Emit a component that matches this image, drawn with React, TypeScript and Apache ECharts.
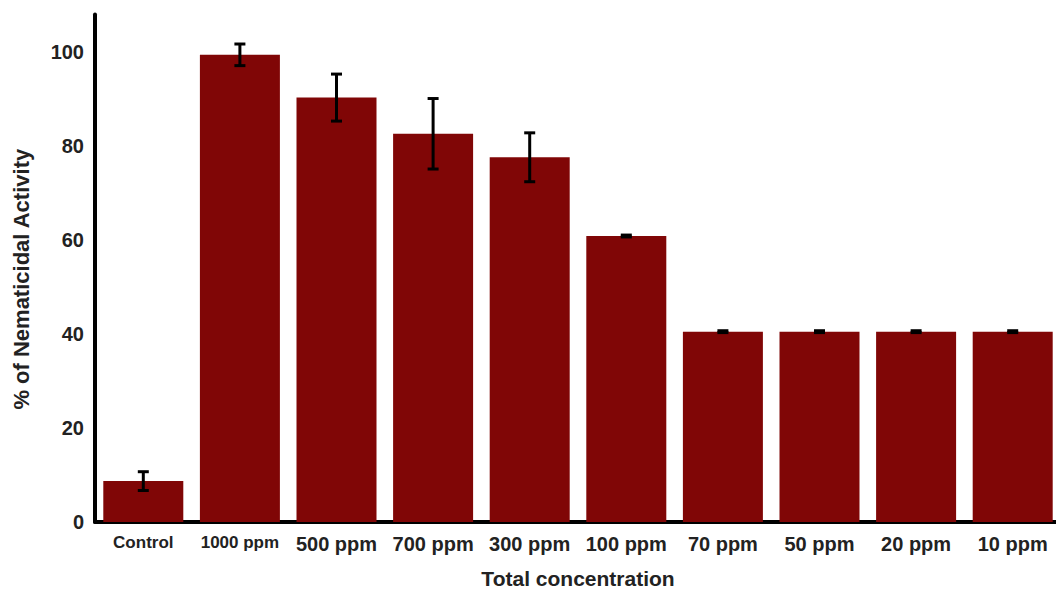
import React, { useEffect, useRef } from "react";
import * as echarts from "echarts";

const categories = ["Control", "1000 ppm", "500 ppm", "700 ppm", "300 ppm", "100 ppm", "70 ppm", "50 ppm", "20 ppm", "10 ppm"];
const activity = [8.7, 99.4, 90.3, 82.6, 77.6, 60.85, 40.5, 40.5, 40.5, 40.5];
const errors = [2.0, 2.3, 5.0, 7.5, 5.2, 0.2, 0.2, 0.2, 0.2, 0.2];
const narrowLabels = ["Control", "1000 ppm"];

const FONT = "'Liberation Sans', Arial, sans-serif";
const BAR_COLOR = "#800606";
const TEXT_COLOR = "#222222";

export default function App() {
  const ref = useRef<HTMLDivElement>(null);
  useEffect(() => {
    if (!ref.current) return;
    const chart = echarts.init(ref.current, null, { renderer: "svg" });
    const errData = activity.map((v, i) => [i, v - errors[i], v + errors[i]]);
    chart.setOption({
      animation: false,
      backgroundColor: "#ffffff",
      grid: { left: 95, right: -5, top: 14.4, bottom: 67, containLabel: false, outerBoundsMode: "none" },
      xAxis: {
        type: "category",
        data: categories,
        name: "Total concentration",
        nameLocation: "middle",
        nameGap: 46,
        nameTextStyle: { fontFamily: FONT, fontWeight: "bold", fontSize: 21, color: TEXT_COLOR },
        axisLine: { show: true, lineStyle: { color: "#000", width: 4 } },
        axisTick: { show: false },
        axisLabel: {
          interval: 0,
          margin: 12,
          fontFamily: FONT,
          fontWeight: "bold",
          fontSize: 20,
          color: TEXT_COLOR,
          formatter: (v: string) => (narrowLabels.includes(v) ? `{n|${v}}` : v),
          rich: { n: { fontFamily: FONT, fontWeight: "bold", fontSize: 17, color: TEXT_COLOR } },
        },
      },
      yAxis: {
        type: "value",
        min: 0,
        max: 108,
        interval: 20,
        name: "% of Nematicidal Activity",
        nameLocation: "middle",
        nameGap: 63,
        nameTextStyle: {
          fontFamily: FONT,
          fontWeight: "bold",
          fontSize: 22,
          color: TEXT_COLOR,
          padding: [0, 22, 0, 0],
        },
        axisLine: { show: true, lineStyle: { color: "#000", width: 4 } },
        axisTick: { show: false },
        splitLine: { show: false },
        axisLabel: {
          margin: 11,
          fontFamily: FONT,
          fontWeight: "bold",
          fontSize: 20,
          color: TEXT_COLOR,
          formatter: (v: number) => (v > 100 ? "" : String(v)),
        },
      },
      series: [
        {
          type: "bar",
          data: activity,
          barWidth: 80,
          itemStyle: { color: BAR_COLOR },
          z: 2,
        },
        {
          type: "custom",
          data: errData,
          z: 3,
          renderItem: (params: any, api: any) => {
            const x = api.value(0);
            const lo = api.coord([x, api.value(1)]);
            const hi = api.coord([x, api.value(2)]);
            const hw = 5.5;
            const style = { stroke: "#000", lineWidth: 3 };
            return {
              type: "group",
              children: [
                { type: "line", shape: { x1: lo[0], y1: lo[1], x2: hi[0], y2: hi[1] }, style },
                { type: "line", shape: { x1: hi[0] - hw, y1: hi[1], x2: hi[0] + hw, y2: hi[1] }, style },
                { type: "line", shape: { x1: lo[0] - hw, y1: lo[1], x2: lo[0] + hw, y2: lo[1] }, style },
              ],
            };
          },
        },
      ],
    });
    return () => chart.dispose();
  }, []);
  return (
    <div style={{ position: "fixed", left: 0, top: 0, width: 1056, height: 589, overflow: "hidden", background: "#fff" }}>
      <div ref={ref} style={{ width: 1056, height: 589 }} />
    </div>
  );
}
